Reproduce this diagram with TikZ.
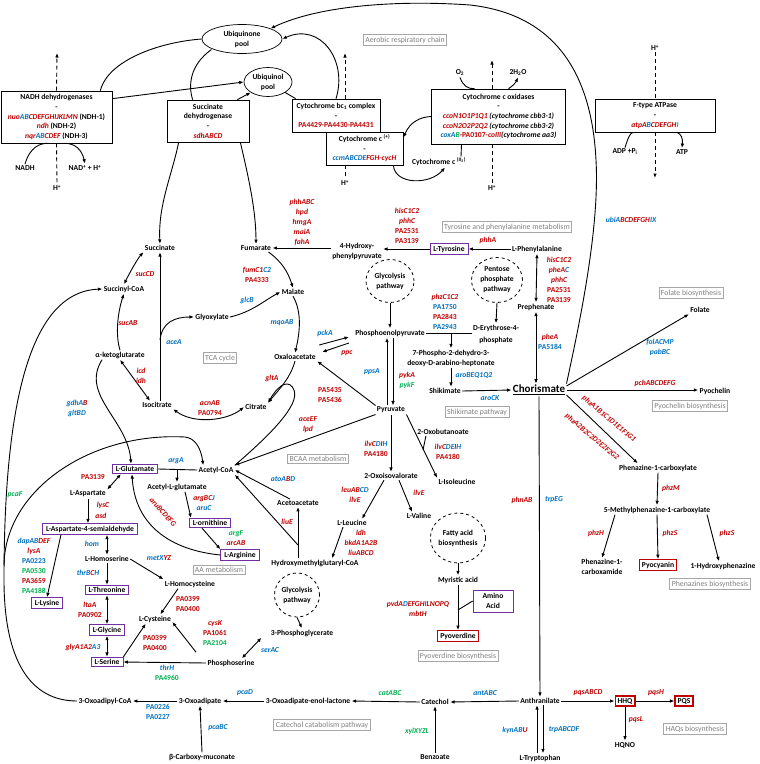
\documentclass[tikz,border=0pt]{standalone}
\usepackage{fontspec}
\setmainfont{Carlito}
\usepackage{tikz}
\usetikzlibrary{positioning,arrows.meta,shapes.geometric,calc}
\usepackage{xcolor}
\definecolor{pred}{RGB}{192,0,0}
\definecolor{pblue}{RGB}{0,112,192}
\definecolor{pgreen}{RGB}{0,176,80}
\definecolor{ppurple}{RGB}{112,48,160}
\definecolor{pgray}{RGB}{128,128,128}
\newcommand{\mfont}{\fontsize{7.6}{10}\selectfont\bfseries}
\newcommand{\gfont}{\fontsize{7.6}{10}\selectfont\bfseries\itshape}
\newcommand{\gR}[1]{\textcolor{pred}{#1}}
\newcommand{\gB}[1]{\textcolor{pblue}{#1}}
\newcommand{\gG}[1]{\textcolor{pgreen}{#1}}
\newcommand{\iR}[1]{\textcolor{pred}{\itshape #1}}
\newcommand{\iB}[1]{\textcolor{pblue}{\itshape #1}}
\newcommand{\iG}[1]{\textcolor{pgreen}{\itshape #1}}
\newcommand{\paN}[1]{{\upshape #1}}

\begin{document}
\begin{tikzpicture}[
  x=1pt, y=-1pt,
  >={Latex[length=4.5pt,width=3.6pt]},
  line width=0.9pt,
  met/.style={font=\mfont, align=center, inner sep=1pt},
  gene/.style={font=\gfont, align=center, inner sep=0pt},
  geneR/.style={gene, text=pred},
  geneB/.style={gene, text=pblue},
  geneG/.style={gene, text=pgreen},
  cbox/.style={draw, line width=0.7pt, fill=white, align=center, inner sep=1pt,
               font=\fontsize{7.6}{9.7}\selectfont\bfseries},
  pool/.style={ellipse, draw, line width=0.7pt, align=center, inner sep=0pt, font=\mfont},
  aabox/.style={draw=ppurple, line width=0.8pt, font=\mfont, align=center,
                inner xsep=3.5pt, inner ysep=2pt},
  prod/.style={draw=pred, line width=1.2pt, font=\mfont, inner xsep=2.5pt, inner ysep=2pt},
  lbl/.style={draw=pgray!70, line width=0.8pt, text=pgray, inner sep=2pt,
              font=\fontsize{7.8}{8}\selectfont},
  pathw/.style={ellipse, draw, dashed, line width=0.8pt, align=center, inner sep=0pt, font=\mfont},
  hplus/.style={dash pattern=on 4pt off 3pt}
]
\useasboundingbox (0,0) rectangle (760,764);

% respiratory chain
\node[pool, minimum width=80pt, minimum height=29pt] (uqn) at (242,39) {Ubiquinone\\pool};
\node[pool, minimum width=48pt, minimum height=29pt] (uql) at (268,82) {Ubiquinol\\pool};
\node[cbox, minimum width=111pt, minimum height=52pt] (ndh) at (56.5,117)
  {NADH dehydrogenases\\-\\\iR{nuo}\iB{AB}\iR{CDEFGHIJKLMN} (NDH-1)\\\iR{ndh} (NDH-2)\\\iR{nqr}\iB{AB}\iR{CDEF} (NDH-3)};
\node[cbox, minimum width=82pt, minimum height=42pt] (sdh) at (208,121)
  {Succinate\\dehydrogenase\\-\\\iR{sdhABCD}};
\node[cbox, minimum width=88pt, minimum height=33pt] (bc1) at (336,115.5)
  {Cytochrome bc\textsubscript{1} complex\\-\\\gR{PA4429-PA4430-PA4431}};
\node[cbox, minimum width=77pt, minimum height=33pt] (cytc) at (364.5,148.5)
  {Cytochrome c \textsuperscript{(+)}\\-\\\iB{ccmABCDE}\iR{FGH-cycH}};
\node[cbox, minimum width=134pt, minimum height=55pt] (oxi) at (498.5,116.5)
  {Cytochrome c oxidases\\-\\\iR{ccoN1O1P1Q1} {\itshape(cytochrome cbb3-1)}\\\iR{ccoN2O2P2Q2} {\itshape(cytochrome cbb3-2)}\\\iB{coxA}\iG{B}\gR{-PA0107-}\iR{coIII}{\itshape(cytochrome aa3)}};
\node[cbox, minimum width=120pt, minimum height=33pt] (fatp) at (655,115.5)
  {F-type ATPase\\-\\\iR{atpA}\iB{B}\iR{CDEFGH}\iG{I}};

\node[met] (nadh) at (25,168) {NADH};
\node[met] (nadp) at (85,168) {NAD\textsuperscript{+} + H\textsuperscript{+}};
\node[met] (hp1) at (57,188) {H\textsuperscript{+}};
\node[met] (hp2) at (345,183) {H\textsuperscript{+}};
\node[met] (hp3) at (492,188) {H\textsuperscript{+}};
\node[met] (hp4) at (655,48) {H\textsuperscript{+}};
\node[met] (o2) at (460,73) {O\textsubscript{2}};
\node[met] (h2o) at (518,73) {2H\textsubscript{2}O};
\node[met] (adp) at (625,152) {ADP +P\textsubscript{i}};
\node[met] (atpl) at (682,152) {ATP};
\node[met] (cyt2) at (439,162) {Cytochrome c \textsuperscript{(II\textsubscript{2})}};
\coordinate (h1top) at (57,53);
\coordinate (h2top) at (345,53);
\coordinate (h3top) at (492,60);
\coordinate (h4bot) at (655,178);

\draw[hplus,->] (ndh.north) -- (h1top);
\draw[hplus] (ndh.south) -- (hp1.north);
\draw[hplus,->] (bc1.north -| h2top) -- (h2top);
\draw[hplus] (cytc.south -| hp2) -- (hp2.north);
\draw[hplus,->] (oxi.north -| h3top) -- (h3top);
\draw[hplus] (oxi.south -| hp3) -- (hp3.north);
\draw[hplus] (hp4.south) -- (fatp.north);
\draw[hplus,->] (fatp.south) -- (h4bot);

\draw ([xshift=-12pt]ndh.north east) .. controls (108,60) and (160,42) .. (uqn.west);
\draw[->] ([yshift=-8pt]ndh.north east) -- (uql.west);
\draw ([xshift=-2pt]uqn.south west) .. controls (190,65) and (188,85) .. ([xshift=26pt]sdh.north west);
\draw[->] ([xshift=-12pt]sdh.north east) -- (uql.south west);
\draw (uql.south east) -- ([xshift=4pt]bc1.north west);
\draw[->] (bc1.north) .. controls (348,60) and (320,22) .. (uqn.east);
\draw[->] (oxi.west) .. controls (420,117) and (410,122) .. ([yshift=-6pt]cytc.north east);
\draw[->] ([xshift=-10pt]cytc.south east) .. controls (395,185) and (430,185) .. ([xshift=6pt]cyt2.south);
\draw ([xshift=22pt]cyt2.north) .. controls (462,150) .. ([xshift=-37pt]oxi.south);
\draw (nadh.north) .. controls (30,147) and (40,143) .. ([xshift=-8pt]ndh.south);
\draw[->] ([xshift=8pt]ndh.south) .. controls (75,143) and (82,150) .. (nadp.north);
\draw (o2.south) .. controls (463,86) and (468,89) .. ([xshift=-24pt]oxi.north);
\draw[->] ([xshift=10pt]oxi.north) .. controls (513,86) and (516,82) .. (h2o.south);
\draw (adp.north) .. controls (628,138) and (630,133) .. ([xshift=-22pt]fatp.south);
\draw[->] ([xshift=22pt]fatp.south) .. controls (681,134) and (683,138) .. (atpl.north);

% metabolites
\node[met] (sucn) at (160,248) {Succinate};
\node[met] (fum) at (256,248) {Fumarate};
\node[met] (mal) at (293,292) {Malate};
\node[met] (glx) at (212,317) {Glyoxylate};
\node[met] (oaa) at (295,357) {Oxaloacetate};
\node[met] (cit) at (256,407) {Citrate};
\node[met] (icit) at (157,405) {Isocitrate};
\node[met] (akg) at (120,355) {α-ketoglutarate};
\node[met] (sucoa) at (124,289) {Succinyl-CoA};
\node[met] (hpp) at (357,251) {4-Hydroxy-\\phenylpyruvate};
\node[aabox] (tyr) at (449,249) {L-Tyrosine};
\node[met] (phe) at (537,249) {L-Phenylalanine};
\node[met] (preph) at (536,307) {Prephenate};
\node[met] (pep) at (390,333) {Phosphoenolpyruvate};
\node[met, font=\fontsize{7.6}{12}\selectfont\bfseries] (e4p) at (496,334) {D-Erythrose-4-\\phosphate};
\node[met] (dahp) at (451,358) {7-Phospho-2-dehydro-3-\\deoxy-D-arabino-heptonate};
\node[met] (shik) at (445,391) {Shikimate};
\node[met, font=\fontsize{11}{12}\selectfont\bfseries] (chor) at (539,390) {\underline{Chorismate}};
\node[met] (pyr) at (391,410) {Pyruvate};
\node[met] (accoa) at (216,470) {Acetyl-CoA};
\node[met] (oxob) at (443,432) {2-Oxobutanoate};
\node[met] (oxiv) at (391,476) {2-Oxoisovalorate};
\node[met] (ile) at (457,482) {L-Isoleucine};
\node[met] (val) at (419,516) {L-Valine};
\node[met] (leu) at (352,523) {L-Leucine};
\node[met] (acac) at (298,503) {Acetoacetate};
\node[met] (hmg) at (315,563) {Hydroxymethylglutaryl-CoA};
\node[met] (pga) at (302,633) {3-Phosphoglycerate};
\node[met] (pser) at (231,663) {Phosphoserine};
\node[met] (cys) at (155,619) {L-Cysteine};
\node[met] (hcys) at (190,584) {L-Homocysteine};
\node[met] (hser) at (107,559) {L-Homoserine};
\node[met] (asp) at (88,494) {L-Aspartate};
\node[met] (aglu) at (177,487) {Acetyl-L-glutamate};
\node[met] (myr) at (458,580) {Myristic acid};
\node[met] (fol) at (700,310) {Folate};
\node[met] (pch) at (715,391) {Pyochelin};
\node[met] (pca) at (658,468) {Phenazine-1-carboxylate};
\node[met] (mpca) at (657,510) {5-Methylphenazine-1-carboxylate};
\node[met] (pcn) at (602,567) {Phenazine-1-\\carboxamide};
\node[met] (ohphz) at (723,566) {1-Hydroxyphenazine};
\node[met] (ant) at (540,701) {Anthranilate};
\node[met] (cat) at (435,702) {Catechol};
\node[met] (oael) at (308,701) {3-Oxoadipate-enol-lactone};
\node[met] (oxad) at (200,701) {3-Oxoadipate};
\node[met] (oxcoa) at (105,701) {3-Oxoadipyl-CoA};
\node[met] (bcm) at (202,757) {β-Carboxy-muconate};
\node[met] (benz) at (435,757) {Benzoate};
\node[met] (trp) at (540,758) {L-Tryptophan};
\node[met] (hqno) at (625,745) {HQNO};

\node[aabox] (glu) at (135,469) {L-Glutamate};
\node[aabox] (orn) at (210,523) {L-ornithine};
\node[aabox] (arg) at (240,555) {L-Arginine};
\node[aabox] (asa) at (90,529) {L-Aspartate-4-semialdehyde};
\node[aabox] (thr) at (107,590) {L-Threonine};
\node[aabox] (gly) at (107,630) {L-Glycine};
\node[aabox] (ser) at (107,662) {L-Serine};
\node[aabox] (lys) at (47,603) {L-Lysine};
\node[aabox, minimum width=40pt, minimum height=22pt] (aa) at (493,601) {Amino\\Acid};
\node[prod] (pvd) at (458,636) {Pyoverdine};
\node[prod] (pyo) at (658,565) {Pyocyanin};
\node[prod] (hhq) at (625,701) {HHQ};
\node[prod] (pqs) at (684,701) {PQS};

\node[pathw, minimum width=48pt, minimum height=43pt] (glyc1) at (390,281) {Glycolysis\\pathway};
\node[pathw, minimum width=51pt, minimum height=45pt] (ppp) at (497,280) {Pentose\\phosphate\\pathway};
\node[pathw, minimum width=45pt, minimum height=44pt] (glyc2) at (297,595) {Glycolysis\\pathway};
\node[pathw, minimum width=51pt, minimum height=50pt] (fab) at (458,538) {Fatty acid\\biosynthesis};

% connectors
\draw[->] (chor.north east) .. controls (578,330) and (600,230) .. (596,160)
  .. controls (592,80) and (560,15) .. (470,5) .. controls (400,0) and (320,5) .. (uqn.north east);
\draw[->] ([xshift=12pt]sdh.south west) .. controls (172,175) and (158,205) .. (sucn.north);
\draw[->] ([xshift=-9pt]sdh.south east) .. controls (248,175) and (256,210) .. (fum.north);
\draw[->] (hpp.west |- fum.east) -- (fum.east);
\draw[->] (tyr.west) -- (hpp.east |- tyr.west);
\draw[->] (phe.west) -- (tyr.east);
\draw[<->] (phe.south) -- (preph.north);
\draw[<->] (preph.south) -- (preph.south |- chor.north);
\draw[->] ([xshift=-4pt]fum.south east) .. controls (282,262) and (288,272) .. (mal.north);
\draw[->] (glx.east) .. controls (252,312) and (265,300) .. (mal.west);
\draw[->] (mal.south) .. controls (302,312) and (300,332) .. (oaa.north);
\draw[->] ([shift={(2pt,12pt)}]oaa.east) -- ([shift={(-5pt,-4pt)}]pep.west);
\draw[->] ([shift={(-5pt,-10pt)}]pep.west) -- ([shift={(5pt,5pt)}]oaa.east);
\draw[->] (pyr.north west) -- (oaa.south east);
\draw[->] (pyr.south west) -- (accoa.north east);
\draw[->] (oaa.south) .. controls (290,378) and (282,386) .. (cit.north east);
\draw[->] (accoa.north east) .. controls (270,435) and (300,405) .. (294,390)
  .. controls (290,380) and (280,382) .. (cit.north east);
\draw[<->] (icit.south east) .. controls (195,425) and (228,420) .. (cit.west);
\coordinate (icn) at ([xshift=3pt]icit.north);
\draw[->] (icn) -- (icn |- sucn.south);
\coordinate (acebr) at (160,340);
\draw[->] (acebr) .. controls (162,322) and (175,317) .. (glx.west);
\draw[<->] ([xshift=-7pt]icit.north) -- (akg.south);
\draw[->] (akg.north) .. controls (114,330) and (120,305) .. (sucoa.south);
\draw[<->] (sucoa.north) .. controls (130,272) and (138,258) .. (sucn.south west);
\draw[->] ([xshift=-18pt]akg.south) .. controls (80,395) and (128,420) .. ([xshift=-4pt]glu.north);
\draw[->] (oxcoa.west) .. controls (30,701) and (4,660) .. (4,580) .. controls (4,420) and (25,292) .. (sucoa.west);
\coordinate (pcaj) at (4,565);
\draw[->] (pcaj) .. controls (5,490) and (90,432) .. (185,437) .. controls (195,438) and (201,448) .. ([xshift=6pt]accoa.north west);
\draw (glu.east) -- (accoa.west);
\draw[->] (glu.east -| aglu.north) -- (aglu.north);
\draw[<->] (asp.north east) -- ([xshift=9pt]glu.south west);
\draw[->] (asp.south) -- (asp.south |- asa.north);
\draw[<->] (hser.north |- asa.south) -- (hser.north);
\draw[->] (hser.south) -- (thr.north);
\draw[<->] (thr.south) -- (gly.north);
\draw[<->] (gly.south) -- (ser.north);
\draw[->] (hser.east) -- (hcys.north west);
\draw[->] ([xshift=-29pt]asa.south) -- (lys.north);
\draw[->] (ser.north east) -- ([xshift=8pt]cys.south west);
\draw[->] ([xshift=-12pt]hcys.south) -- ([xshift=-12pt]cys.north east);
\draw[->] ([shift={(-10pt,6pt)}]pser.north west) -- ([yshift=-3pt]cys.east);
\draw[->] (pser.west) -- (ser.east);
\draw[<->] ([xshift=-8pt]pga.south west) -- ([xshift=-14pt]pser.north east);
\draw[->] (glyc2.south) -- (pga.north);
\draw[->] (hmg.north -| acac.south) -- (acac.south);
\coordinate (hmgj) at (298,545);
\draw[->] (hmgj) -- (accoa.south east);
\draw[->] ([xshift=-8pt]acac.north) -- (accoa.east);
\draw[->] ([xshift=-9pt]leu.south) -- ([xshift=17pt]hmg.north);
\draw[->] ([xshift=-7pt]oxiv.south) -- ([xshift=-6pt]leu.north east);
\draw[->] ([xshift=8pt]oxiv.south) -- ([xshift=-7pt]val.north);
\draw[->] (pyr.south) -- (oxiv.north);
\draw[->] (pyr.south east) -- (ile.north west);
\coordinate (obj) at (423,450);
\draw ([xshift=10pt]oxob.south west) -- (obj);
\draw[->] (glyc1.south) -- (pep.north);
\draw[->] ([xshift=-4pt]pyr.north) -- ([xshift=-3pt]pep.south);
\draw[->] ([xshift=3pt]pep.south) -- ([xshift=2pt]pyr.north);
\draw[->] (ppp.south) -- (e4p.north);
\draw (pep.east) -- (e4p.west |- pep.east);
\draw[->] (pep.east -| dahp.north) -- (dahp.north);
\draw[->] (dahp.south) -- (dahp.south |- shik.north);
\draw[->] (shik.east) -- (chor.west);
\draw[->] ([yshift=4pt]chor.east) -- (fol.south west);
\draw[->] (chor.east) -- (chor.east -| pch.west);
\draw[->] ([yshift=-5pt]chor.east) -- ([xshift=20pt]pca.north west);
\draw[->] (pca.south) -- (mpca.north);
\draw[->] ([xshift=-42pt]mpca.south) -- (pcn.north);
\draw[->] (mpca.south) -- (pyo.north);
\draw[->] ([xshift=50pt]mpca.south) -- ([xshift=-4pt]ohphz.north);
\draw[->] (chor.south) -- (ant.north);
\draw[->] (ant.west) -- (cat.east);
\draw[->] (cat.west) -- (oael.east);
\draw[->] (oael.west) -- (oxad.east);
\draw[->] (oxad.west) -- (oxcoa.east);
\draw[->] (bcm.north) -- (oxad.south);
\draw[->] (benz.north) -- (cat.south);
\draw[->] ([xshift=-3pt]trp.north) -- ([xshift=-3pt]ant.south);
\draw[->] ([xshift=3pt]ant.south) -- ([xshift=3pt]trp.north);
\draw[->] (ant.east) -- (hhq.west);
\draw[->] (hhq.east) -- (pqs.west);
\draw[->] (hhq.south) -- (hqno.north);
\draw[->] (fab.south) -- (myr.north);
\draw[->] (myr.south) -- (pvd.north);
\coordinate (aaj) at (458,610);
\draw (aa.west) -- (aaj);
\draw[->] ([xshift=8pt]aglu.south) -- ([xshift=2pt]orn.north west);
\draw[->] ([xshift=-8pt]orn.south) -- (arg.north west);
\draw[->] (arg.west) .. controls (170,550) and (135,525) .. ([xshift=-3pt]glu.south);

% genes
\node[geneR] (gphh) at (302,222) {phhABC\\hpd\\hmgA\\maiA\\fahA};
\node[geneR] (ghis1) at (407,226) {hisC1C2\\phhC\\\paN{PA2531}\\\paN{PA3139}};
\node[geneR] (gphhA) at (488,240) {phhA};
\node[gene] (ghis2) at (559,279.5) {\gR{hisC1C2}\\\gR{pheA}\gB{C}\\\gR{phhC}\\\gR{\paN{PA2531}}\\\gR{\paN{PA3139}}};
\node[gene] (gfum) at (257,275) {\gR{fumC1}\gB{C2}\\\gR{\paN{PA4333}}};
\node[geneB] (gglc) at (247,300) {glcB};
\node[geneB] (gmqo) at (282,323) {mqoAB};
\node[geneB] (gpck) at (325,333) {pckA};
\node[geneR] (gppc) at (347,353) {ppc};
\node[geneR] (gglt) at (272,378) {gltA};
\node[geneR] (gacn) at (210,408) {acnAB\\\paN{PA0794}};
\node[geneR] (gicd) at (141,376) {icd\\idh};
\node[geneR] (gsucab) at (128,323) {sucAB};
\node[geneR] (gsuccd) at (145,274) {sucCD};
\node[geneB] (gace) at (174,342) {aceA};
\node[gene] (ggdh) at (77,408) {\gB{gdhA}\gR{B}\\\gB{gltBD}};
\node[geneB] (garga) at (176,461) {argA};
\node[geneR] (gpa31) at (93,477) {\paN{PA3139}};
\node[geneR] (glysc) at (103,505) {lysC};
\node[geneR] (gasd) at (101,516) {asd};
\node[gene] (gargb) at (204,503) {\gR{argBC}\gB{J}\\\gB{aruC}};
\node[geneR, rotate=-48] (garu) at (163,512) {aruBCDEFG};
\node[gene] (gargf) at (236,538) {\gG{argF}\\\gR{arcAB}};
\node[gene] (gato) at (283,479) {\gB{atoA}\gR{B}\gB{D}};
\node[geneR] (gace2) at (308,425) {aceEF\\lpd};
\node[geneR] (gpa54) at (330,395) {\paN{PA5435}\\\paN{PA5436}};
\node[geneB] (gpps) at (372,372) {ppsA};
\node[gene] (gpyk) at (407,380) {\gR{pykA}\\\gG{pykF}};
\node[gene] (gilv1) at (376,449) {\gR{ilvC}\gB{D}\gR{I}\gB{H}\\\gR{\paN{PA4180}}};
\node[gene] (gilv2) at (448,452) {\gR{ilvC}\gB{DE}\gR{I}\gB{H}\\\gR{\paN{PA4180}}};
\node[gene] (gleu) at (355,495) {\gR{leuAB}\gB{CD}\\\gR{ilvE}};
\node[geneR] (gilve) at (419,493) {ilvE};
\node[geneR] (gliue) at (287,522) {liuE};
\node[geneR] (gldh) at (361,543) {ldh\\bkdA1A2B\\liuABCD};
\node[gene] (gphzc) at (445,312) {\gR{phzC1C2}\\\gB{\paN{PA1750}}\\\gR{\paN{PA2843}}\\\gB{\paN{PA2943}}};
\node[geneB] (garo) at (474,375) {aroBEQ1Q2};
\node[geneB] (garock) at (490,398) {aroCK};
\node[gene] (gphea) at (550,342) {\gR{pheA}\\\gB{\paN{PA5184}}};
\node[geneB] (gfol) at (660,347) {folACMP\\pabBC};
\node[geneR] (gpch) at (655,383) {pchABCDEFG};
\node[geneR, rotate=-40] (gphz1) at (609,419) {phzA1B1C1D1E1F1G1};
\node[geneR, rotate=-40] (gphz2) at (592,437) {phzA2B2C2D2E2F2G2};
\node[geneR] (gphzm) at (671,488) {phzM};
\node[geneR] (gphzh) at (596,533) {phzH};
\node[geneR] (gphzs1) at (670,533) {phzS};
\node[geneR] (gphzs2) at (727,533) {phzS};
\node[geneR] (gphn) at (522,500) {phnAB};
\node[geneB] (gtrpeg) at (554,500) {trpEG};
\node[geneB] (gant) at (485,693) {antABC};
\node[geneG] (gcat) at (390,693) {catABC};
\node[geneB] (gpcad) at (245,693) {pcaD};
\node[geneB] (gpa02) at (158,712) {\paN{PA0226}\\\paN{PA0227}};
\node[geneB] (gpcab) at (218,728) {pcaBC};
\node[geneG] (gxyl) at (417,731) {xylXYZL};
\node[gene] (gkyn) at (515,730) {\gB{kynAB}\gR{U}};
\node[geneB] (gtrpab) at (564,730) {trpABCDF};
\node[geneR] (gpqsa) at (588,693) {pqsABCD};
\node[geneR] (gpqsh) at (656,693) {pqsH};
\node[geneR] (gpqsl) at (636,720) {pqsL};
\node[gene] (gpvd) at (418,609) {\gR{pvdA}\gB{D}\gR{EFGH}\gB{I}\gR{LNOPQ}\\\gR{mbtH}};
\node[gene] (gdap) at (34,566) {\gB{dapAB}\gR{DEF}\\\gR{lysA}\\\gB{\paN{PA0223}}\\\gG{\paN{PA0530}}\\\gR{\paN{PA3659}}\\\gG{\paN{PA4188}}};
\node[geneB] (ghom) at (92,544) {hom};
\node[gene] (gmet) at (159,558) {\gB{metX}\gR{YZ}};
\node[gene] (gthr) at (88,573) {\gB{thrB}\gR{C}\gB{H}};
\node[geneR] (glta) at (90,610) {ltaA\\\paN{PA0902}};
\node[gene] (ggly) at (83,647) {\gR{glyA1A2}\gB{A3}};
\node[geneR] (gpa03a) at (155,643) {\paN{PA0399}\\\paN{PA0400}};
\node[geneR] (gpa03b) at (188,604) {\paN{PA0399}\\\paN{PA0400}};
\node[gene] (gcys) at (215,633) {\gR{cysK}\\\gR{\paN{PA1061}}\\\gG{\paN{PA2104}}};
\node[geneB] (gser) at (270,650) {serAC};
\node[gene] (gthrh) at (167,673) {\gB{thrH}\\\gG{\paN{PA4960}}};
\node[geneG] (gpcaf) at (15,495) {pcaF};
\node[gene] (gubi) at (631,220) {\gB{ubiA}\gR{BCDEFGH}\gB{IX}};

% pathway labels
\node[lbl] (lresp) at (405,40) {Aerobic respiratory chain};
\node[lbl] (ltyr) at (507,227) {Tyrosine and phenylalanine metabolism};
\node[lbl] (lfol) at (691,293) {Folate biosynthesis};
\node[lbl] (ltca) at (220,358) {TCA cycle};
\node[lbl] (lbcaa) at (318,459) {BCAA metabolism};
\node[lbl] (lshik) at (477,412) {Shikimate pathway};
\node[lbl] (lpch) at (690,406) {Pyochelin biosynthesis};
\node[lbl] (laa) at (219,570) {AA metabolism};
\node[lbl] (lphz) at (710,584) {Phenazines biosynthesis};
\node[lbl] (lpvd) at (458,656) {Pyoverdine biosynthesis};
\node[lbl] (lcat) at (322,725) {Catechol catabolism pathway};
\node[lbl] (lhaq) at (695,729) {HAQs biosynthesis};
\end{tikzpicture}
\end{document}
